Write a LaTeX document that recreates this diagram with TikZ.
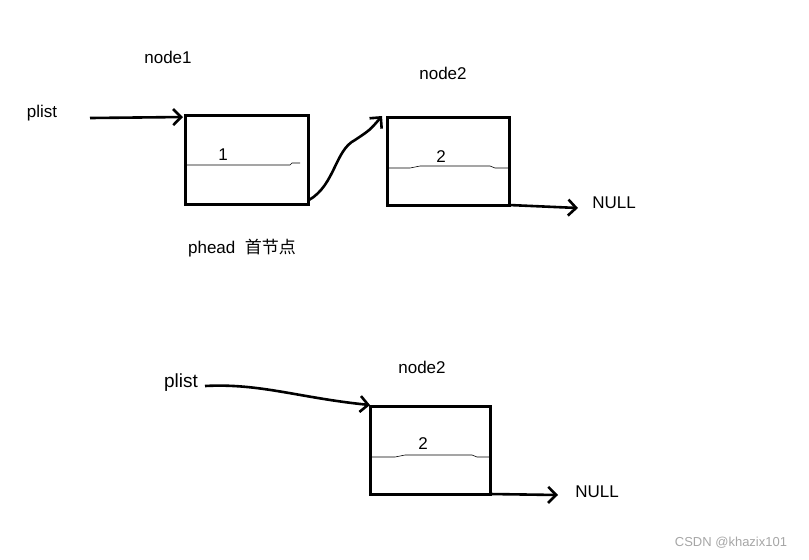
\documentclass[tikz,border=0pt]{standalone}
\usepackage{fontspec}
\setmainfont{Liberation Sans}
\newfontfamily\cjk{Noto Sans CJK SC}
\usetikzlibrary{arrows.meta}
\begin{document}
\begin{tikzpicture}[x=0.5pt,y=-0.5pt,
  lbl/.style={font=\fontsize{8.5}{10}\selectfont,inner sep=0},
  box/.style={draw,line width=1.5pt},
  inner/.style={line width=0.3pt},
  arr/.style={line width=1.3pt,-{Straight Barb[length=4pt,width=8pt]}}]
\useasboundingbox (0,0) rectangle (809,559);
\node[lbl] (n1) at (168,57) {node1};
\node[lbl] (p1) at (42,113) {plist};
\coordinate (p1s) at (90,118);
\node[box,minimum width=61.5pt,minimum height=44.5pt,inner sep=0] (b1) at (246.5,159.5) {};
\draw[inner] (185,165) -- (290,165) -- (292,163) -- (300,163);
\node[lbl] (v1) at (223,155) {1};
\draw[arr] (p1s) -- (183,117);
\node[lbl] (n2) at (443,73) {node2};
\node[box,minimum width=61pt,minimum height=44pt,inner sep=0] (b2) at (448,161) {};
\draw[inner] (387,168) -- (410,168) -- (420,166) -- (490,166) -- (495,168) -- (509,168);
\node[lbl] (v2) at (441,157) {2};
\coordinate (c1) at (309,200);
\draw[arr] (c1) .. controls (335,185) and (335,150) .. (355,140) .. controls (370,130) .. (382,116);
\coordinate (e2) at (509,205);
\draw[arr] (e2) -- (578,208);
\node[lbl] (null1) at (614,203) {NULL};
\node[lbl] (ph) at (242,248) {phead\ \ {\cjk 首节点}};
\node[lbl,font=\fontsize{9.5}{11}\selectfont] (p2) at (181,383) {plist};
\coordinate (p2s) at (205,386);
\node[lbl] (n3) at (422,367) {node2};
\node[box,minimum width=60pt,minimum height=44pt,inner sep=0] (b3) at (430,450) {};
\draw[inner] (370,457) -- (395,457) -- (405,455) -- (472,455) -- (477,457) -- (490,457);
\node[lbl] (v3) at (423,444) {2};
\draw[arr] (p2s) .. controls (260,383) and (300,398) .. (370,405);
\coordinate (e3) at (490,494);
\draw[arr] (e3) -- (558,495);
\node[lbl] (null2) at (597,492) {NULL};
\node[lbl,font=\fontsize{6.5}{8}\selectfont,text=gray!70] (wm) at (731,543) {CSDN @khazix101};
\end{tikzpicture}
\end{document}
